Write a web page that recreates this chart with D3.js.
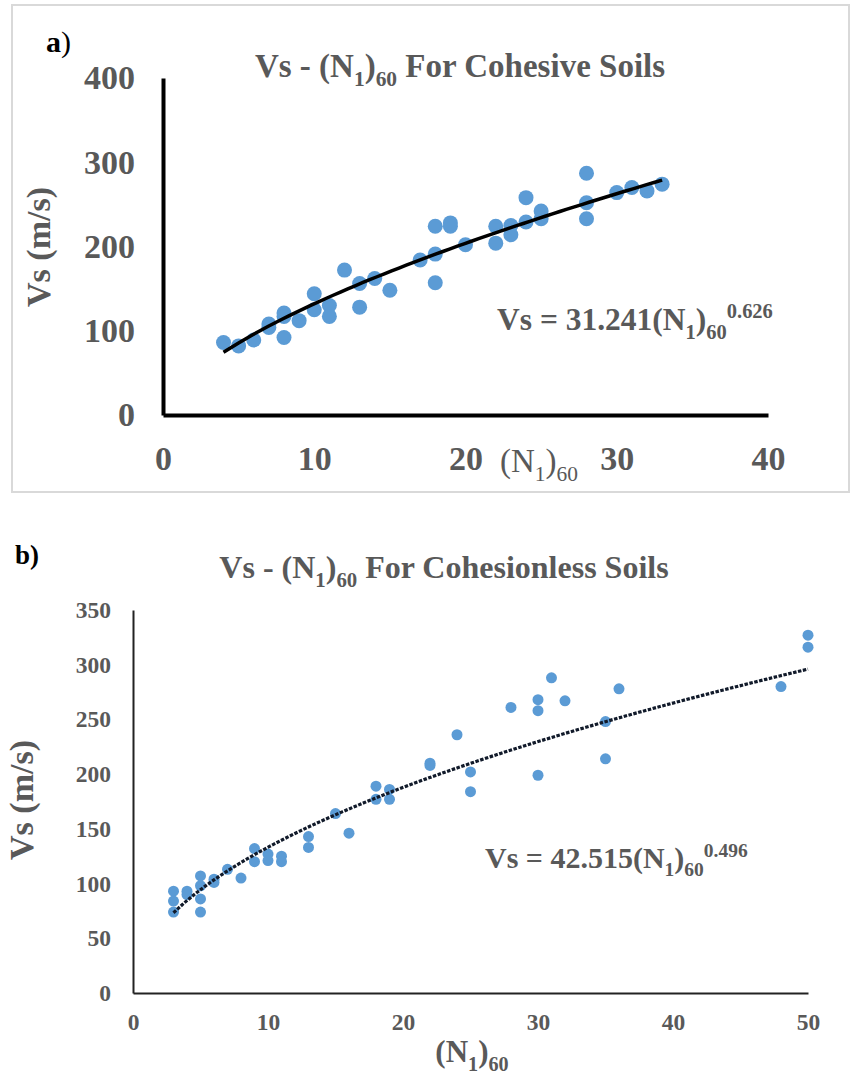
<!DOCTYPE html>
<html>
<head>
<meta charset="utf-8">
<script src="https://cdn.jsdelivr.net/npm/d3@7"></script>
<style>
  body { margin: 0; background: #fff; }
  svg text { font-family: "Liberation Serif", "Times New Roman", serif; }
</style>
</head>
<body>
<svg width="852" height="1078"></svg>
<script>
// panel a: cohesive soils
const cohN  = [4, 5, 6, 7, 7, 8, 8, 8, 9, 10, 10, 11, 11, 12, 13, 13, 14, 15, 17, 18, 18, 18, 19, 19, 20, 22, 22, 23, 23, 24, 24, 25, 25, 28, 28, 28, 30, 31, 32, 33];
const cohVs = [86, 82, 89, 108, 104, 121, 117, 92, 112, 144, 125, 130, 117, 172, 156, 128, 162, 148, 184, 224, 191, 157, 224, 228, 202, 224, 204, 225, 214, 258, 229, 242, 233, 287, 252, 233, 264, 270, 266, 274];
const cohFit = [31.241, 0.626];   // Vs = a * N^b
const cohXTicks = [0, 10, 20, 30, 40];
const cohYTicks = [0, 100, 200, 300, 400];

// panel b: cohesionless soils
const cnlN  = [3, 3, 3, 4, 4, 5, 5, 5, 5, 6, 6, 7, 8, 9, 9, 10, 10, 11, 11, 13, 13, 15, 16, 18, 18, 19, 19, 22, 22, 24, 25, 25, 28, 30, 30, 30, 31, 32, 35, 35, 36, 48, 50, 50];
const cnlVs = [93, 84, 74, 93, 90, 107, 98, 86, 74, 104, 101, 113, 105, 132, 120, 127, 121, 125, 120, 143, 133, 164, 146, 189, 177, 186, 177, 210, 208, 236, 202, 184, 261, 268, 258, 199, 288, 267, 248, 214, 278, 280, 327, 316];
const cnlFit = [42.515, 0.496];
const cnlXTicks = [0, 10, 20, 30, 40, 50];
const cnlYTicks = [0, 50, 100, 150, 200, 250, 300, 350];

const grey = '#595959';
const blue = '#5B9BD5';
const svg = d3.select('svg');

// text with sub/superscript parts: parts = [[text, 'sub'|'sup'|null], ...]
function richText(g, x, y, size, parts, opts = {}) {
  const t = g.append('text')
    .attr('x', x).attr('y', y)
    .attr('font-size', size)
    .attr('font-weight', opts.weight || 'bold')
    .attr('fill', opts.fill || grey)
    .attr('text-anchor', opts.anchor || 'start');
  if (opts.transform) t.attr('transform', opts.transform);
  let shift = 0;
  parts.forEach(([s, kind]) => {
    let target = 0, fs = size;
    if (kind === 'sub') { target = size * 0.28; fs = size * 0.65; }
    if (kind === 'sup') { target = -size * 0.38; fs = size * 0.65; }
    t.append('tspan')
      .attr('dy', target - shift)
      .attr('font-size', fs)
      .text(s);
    shift = target;
  });
  return t;
}

// points along the fitted power curve, spanning the data's N range
function trend(ns, fit) {
  const [lo, hi] = d3.extent(ns);
  const pts = [];
  for (let i = 0; i <= 60; i++) {
    const n = lo + (hi - lo) * i / 60;
    pts.push([n, fit[0] * Math.pow(n, fit[1])]);
  }
  return pts;
}

function panel(cfg) {
  const g = svg.append('g');
  const x = d3.scaleLinear().domain(cfg.xDomain).range(cfg.xRange);
  const y = d3.scaleLinear().domain(cfg.yDomain).range(cfg.yRange);

  const xAxis = g.append('g')
    .attr('transform', `translate(0,${cfg.yRange[0]})`)
    .call(d3.axisBottom(x).tickValues(cfg.xTicks).tickSize(0).tickPadding(cfg.xPad));
  const yAxis = g.append('g')
    .attr('transform', `translate(${cfg.xRange[0]},0)`)
    .call(d3.axisLeft(y).tickValues(cfg.yTicks).tickSize(0).tickPadding(cfg.yPad));

  [xAxis, yAxis].forEach(ax => {
    ax.select('.domain').attr('stroke', cfg.axisColor).attr('stroke-width', cfg.axisWidth);
    ax.selectAll('text')
      .attr('font-size', cfg.tickSize)
      .attr('font-weight', 'bold')
      .attr('fill', grey)
      .attr('font-family', '"Liberation Serif", serif');
  });

  g.selectAll('circle')
    .data(cfg.n.map((d, i) => [d, cfg.vs[i]]))
    .enter()
    .append('circle')
    .attr('cx', d => x(d[0]))
    .attr('cy', d => y(d[1]))
    .attr('r', cfg.r)
    .attr('fill', blue);

  const line = d3.line().x(d => x(d[0])).y(d => y(d[1]));
  g.append('path')
    .attr('d', line(trend(cfg.n, cfg.fit)))
    .attr('fill', 'none')
    .attr('stroke', cfg.lineColor || '#000')
    .attr('stroke-width', cfg.lineWidth)
    .attr('stroke-dasharray', cfg.dash || null);

  return { g, x, y };
}

// ---- panel a ----
svg.append('rect')
  .attr('x', 12).attr('y', 5).attr('width', 837).attr('height', 487)
  .attr('fill', 'none').attr('stroke', '#d9d9d9').attr('stroke-width', 2);

const pa = panel({
  xDomain: [0, 40], xRange: [163, 768],
  yDomain: [0, 400], yRange: [415, 78],
  xTicks: cohXTicks, yTicks: cohYTicks,
  xPad: 31, yPad: 28, tickSize: 34,
  axisColor: '#000', axisWidth: 4,
  n: cohN, vs: cohVs, fit: cohFit, r: 7.5, lineWidth: 3.5
});

const aLbl = svg.append('text').attr('x', 46).attr('y', 52).attr('font-size', 30).attr('fill', '#000');
aLbl.append('tspan').attr('font-weight', 'bold').text('a');
aLbl.append('tspan').text(')');

richText(pa.g, 460, 77, 33, [['Vs - (N'], ['1', 'sub'], [')'], ['60', 'sub'], [' For Cohesive Soils']], { anchor: 'middle' });
richText(pa.g, 497, 330, 31.5, [['Vs = 31.241(N'], ['1', 'sub'], [')'], ['60', 'sub'], ['0.626', 'sup']]);
richText(pa.g, 500, 472, 33, [['(N'], ['1', 'sub'], [')'], ['60', 'sub']], { weight: 'normal' });
richText(pa.g, 0, 0, 34, [['Vs (m/s)']], { anchor: 'middle', transform: 'translate(50,247) rotate(-90)' });

// ---- panel b ----
const pb = panel({
  xDomain: [0, 50], xRange: [133, 808],
  yDomain: [0, 350], yRange: [993, 610],
  xTicks: cnlXTicks, yTicks: cnlYTicks,
  xPad: 20, yPad: 22, tickSize: 23.5,
  axisColor: '#222', axisWidth: 2,
  n: cnlN, vs: cnlVs, fit: cnlFit, r: 5.5,
  lineWidth: 3.2, dash: '3.5,1.5', lineColor: '#111a2a'
});

svg.append('text').attr('x', 15).attr('y', 564).attr('font-size', 27)
  .attr('font-weight', 'bold').attr('fill', '#000').text('b)');

richText(pb.g, 444, 578, 32, [['Vs - (N'], ['1', 'sub'], [')'], ['60', 'sub'], [' For Cohesionless Soils']], { anchor: 'middle' });
richText(pb.g, 485, 868, 30, [['Vs = 42.515(N'], ['1', 'sub'], [')'], ['60', 'sub'], ['0.496', 'sup']]);
richText(pb.g, 472, 1062, 31, [['(N'], ['1', 'sub'], [')'], ['60', 'sub']], { anchor: 'middle' });
richText(pb.g, 0, 0, 34, [['Vs (m/s)']], { anchor: 'middle', transform: 'translate(33,800) rotate(-90)' });
</script>
</body>
</html>
